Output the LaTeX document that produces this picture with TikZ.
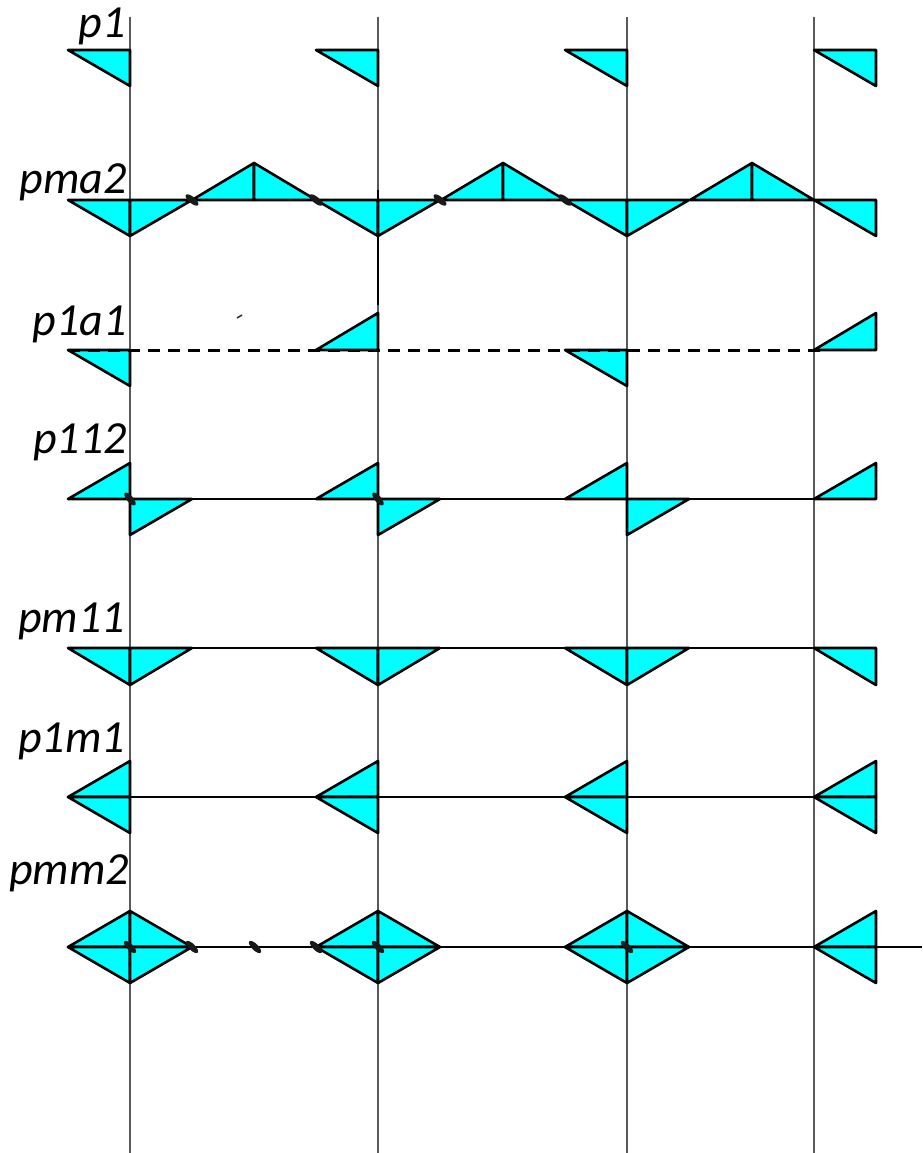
\documentclass[tikz,border=0pt]{standalone}
\usepackage{fontspec}
\setmainfont{Carlito}
\definecolor{aqua}{RGB}{0,255,255}
\begin{document}
\begin{tikzpicture}[x=1pt,y=-1pt,
  tri/.style={fill=aqua, draw=black, line width=2.6pt, line join=round},
  grid/.style={draw=black!65, line width=1.1pt},
  thinline/.style={draw=black, line width=1.3pt},
  medline/.style={draw=black, line width=2.4pt},
  glide/.style={fill=black!90, draw=none},
  lbl/.style={anchor=base east, inner sep=0pt, font=\fontsize{46}{46}\selectfont\itshape}]
\useasboundingbox (0,0) rectangle (922,1153);
\fill[white] (0,0) rectangle (922,1153);
% grid lines
\foreach \c in {130,378,627,814} \draw[grid] (\c,17) -- (\c,1153);
\draw[black, line width=2.4pt] (378,190) -- (378,305);
% labels
\node[lbl] (l1) at (126,38) {p1};
\node[lbl] (l2) at (127,193) {pma2};
\node[lbl] (l3) at (127,335) {p1a1};
\node[lbl] (l4) at (127,453) {p112};
\node[lbl] (l5) at (125,632) {pm11};
\node[lbl] (l6) at (125,752) {p1m1};
\node[lbl] (l7) at (129,884) {pmm2};
% p1
\foreach \c in {130,378,627,876} \draw[tri] (\c-62,50) -- (\c,50) -- (\c,86) -- cycle;
% pma2
\foreach \c in {130,378,627} {
  \draw[tri] (\c-62,200) -- (\c,200) -- (\c,236) -- cycle;
  \draw[tri] (\c,200) -- (\c+62,200) -- (\c,236) -- cycle;
}
\foreach \a in {254,503,752} {
  \draw[tri] (\a-62,200) -- (\a,163) -- (\a,200) -- cycle;
  \draw[tri] (\a,200) -- (\a,163) -- (\a+62,200) -- cycle;
}
\draw[tri] (814,200) -- (876,200) -- (876,236) -- cycle;
\foreach \m in {192,316,440,565} \fill[glide, rotate around={-40:(\m,200)}] (\m,200) ellipse (8 and 3.2);
% p1a1
\draw[tri] (68,350) -- (130,350) -- (130,386) -- cycle;
\draw[tri] (316,350) -- (378,313) -- (378,350) -- cycle;
\draw[tri] (565,350) -- (627,350) -- (627,386) -- cycle;
\draw[tri] (814,350) -- (876,313) -- (876,350) -- cycle;
\draw[black, line width=3pt, dash pattern=on 12pt off 8pt] (68,350) -- (822,350);
\draw[black!80, line width=1.6pt] (237,318) -- (242,315);
% p112
\draw[thinline] (68,499) -- (876,499);
\foreach \c in {130,378,627} {
  \draw[tri] (\c-62,499) -- (\c,463) -- (\c,499) -- cycle;
  \draw[tri] (\c,499) -- (\c+62,499) -- (\c,535) -- cycle;
}
\draw[tri] (814,499) -- (876,463) -- (876,499) -- cycle;
\foreach \m in {130,378} \fill[glide, rotate around={-50:(\m,499)}] (\m,499) ellipse (8 and 3.2);
% pm11
\draw[thinline] (68,648) -- (876,648);
\foreach \c in {130,378,627} {
  \draw[tri] (\c-62,648) -- (\c,648) -- (\c,685) -- cycle;
  \draw[tri] (\c,648) -- (\c+62,648) -- (\c,685) -- cycle;
}
\draw[tri] (814,648) -- (876,648) -- (876,685) -- cycle;
% p1m1
\foreach \c in {130,378,627,876} {
  \draw[tri] (\c-62,797) -- (\c,761) -- (\c,797) -- cycle;
  \draw[tri] (\c-62,797) -- (\c,797) -- (\c,833) -- cycle;
}
\draw[medline] (68,797) -- (876,797);
% pmm2
\foreach \c in {130,378,627} {
  \draw[tri] (\c-62,947) -- (\c,911) -- (\c,947) -- cycle;
  \draw[tri] (\c,911) -- (\c+62,947) -- (\c,947) -- cycle;
  \draw[tri] (\c-62,947) -- (\c,947) -- (\c,983) -- cycle;
  \draw[tri] (\c,947) -- (\c+62,947) -- (\c,983) -- cycle;
}
\draw[tri] (814,947) -- (876,911) -- (876,947) -- cycle;
\draw[tri] (814,947) -- (876,947) -- (876,983) -- cycle;
\draw[medline] (68,947) -- (922,947);
\foreach \m in {130,192,255,316,378,627} \fill[glide, rotate around={-45:(\m,947)}] (\m,947) ellipse (8 and 3.2);
\end{tikzpicture}
\end{document}
